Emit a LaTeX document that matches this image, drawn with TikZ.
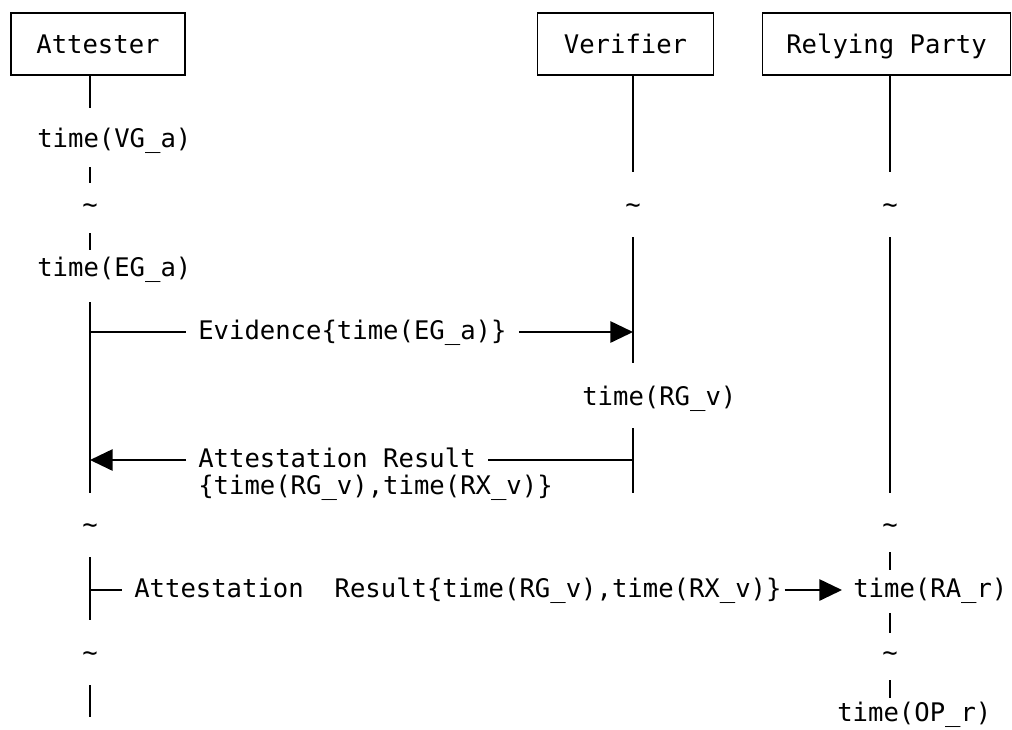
\documentclass[tikz,border=0pt]{standalone}
\usepackage{fontspec}
\newfontfamily\flowfont{DejaVu Sans Mono}
\usetikzlibrary{arrows.meta}
\usetikzlibrary{calc}

\tikzset{
  participant/.style={draw, line width=1.4pt, minimum height=47pt, inner sep=0pt, text height=14pt, text depth=0pt},
  lifeline/.style={line width=1.4pt},
  message/.style={line width=1.4pt, -{Triangle[length=17pt, width=16pt]}},
  stamp/.style={inner sep=0pt, anchor=base west},
  msgtext/.style={inner xsep=9pt, inner ysep=0pt, anchor=base west},
  breakmark/.style={inner sep=0pt, anchor=base},
}

\begin{document}
\begin{tikzpicture}[x=0.75pt, y=-0.75pt, every node/.append style={font=\flowfont\fontsize{19.2}{23}\selectfont}]

    \useasboundingbox (0,0) rectangle (1012,729);

    \def\attesterX{90}
    \def\verifierX{633}
    \def\partyX{890}

    % Attester

    \node[participant, minimum width=131pt] (attester) at (98,44) {Attester};
    \node[stamp] (vgA) at (37,147) {time(VG\_a)};
    \node[breakmark] (aGapOne) at (\attesterX,213) {\textasciitilde};
    \node[stamp] (egA) at (37,276) {time(EG\_a)};
    \node[breakmark] (aGapTwo) at (\attesterX,533) {\textasciitilde};
    \node[breakmark] (aGapThree) at (\attesterX,661) {\textasciitilde};

    \draw[lifeline] (attester.south -| \attesterX,0) -- (\attesterX,108);
    \draw[lifeline] (\attesterX,167) -- (\attesterX,183);
    \draw[lifeline] (\attesterX,233) -- (\attesterX,250);
    \draw[lifeline] (\attesterX,302) -- (\attesterX,493);
    \draw[lifeline] (\attesterX,557) -- (\attesterX,620);
    \draw[lifeline] (\attesterX,685) -- (\attesterX,717);

    % Verifier

    \node[participant, minimum width=132pt] (verifier) at (625.5,44) {Verifier};
    \node[breakmark] (vGapOne) at (\verifierX,213) {\textasciitilde};
    \node[stamp] (rgV) at (582,405) {time(RG\_v)};

    \draw[lifeline] (verifier.south -| \verifierX,0) -- (\verifierX,172);
    \draw[lifeline] (\verifierX,237) -- (\verifierX,363);
    \draw[lifeline] (\verifierX,428) -- (\verifierX,493);

    % Relying Party

    \node[participant, minimum width=186pt] (party) at (886.5,44) {Relying Party};
    \node[breakmark] (rGapOne) at (\partyX,213) {\textasciitilde};
    \node[breakmark] (rGapTwo) at (\partyX,533) {\textasciitilde};
    \node[stamp] (raR) at (853,597) {time(RA\_r)};
    \node[breakmark] (rGapThree) at (\partyX,661) {\textasciitilde};
    \node[stamp] (opR) at (837,721) {time(OP\_r)};

    \draw[lifeline] (party.south -| \partyX,0) -- (\partyX,172);
    \draw[lifeline] (\partyX,237) -- (\partyX,493);
    \draw[lifeline] (\partyX,552) -- (\partyX,570);
    \draw[lifeline] (\partyX,613) -- (\partyX,633);
    \draw[lifeline] (\partyX,680) -- (\partyX,698);

    % Evidence

    \coordinate (aEvidence) at (\attesterX,332);
    \coordinate (vEvidence) at (\verifierX,332);
    \node[msgtext] (evidence) at (186,339) {Evidence\{time(EG\_a)\}};
    \draw[lifeline] (aEvidence) -- (evidence.west |- aEvidence);
    \draw[message] (evidence.east |- aEvidence) -- (vEvidence);

    % Attestation Result to Attester

    \coordinate (vResult) at (\verifierX,460);
    \coordinate (aResult) at (\attesterX,460);
    \node[msgtext] (result) at (186,467) {Attestation Result};
    \node[stamp] (resultTimes) at (198,494) {\{time(RG\_v),time(RX\_v)\}};
    \draw[lifeline] (vResult) -- (result.east |- vResult);
    \draw[message] (result.west |- aResult) -- (aResult);

    % Attestation Result to Relying Party

    \coordinate (aRelay) at (\attesterX,590);
    \coordinate (rRelay) at (842,590);
    \node[msgtext] (relay) at (122,597) {Attestation\ \ Result\{time(RG\_v),time(RX\_v)\}};
    \draw[lifeline] (aRelay) -- (relay.west |- aRelay);
    \draw[message] ([xshift=-7pt]relay.east |- aRelay) -- (rRelay);

\end{tikzpicture}
\end{document}
